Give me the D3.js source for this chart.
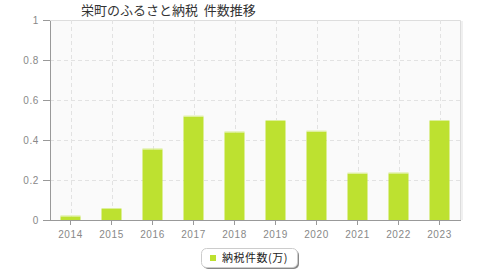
<!DOCTYPE html>
<html lang="ja">
<head>
<meta charset="UTF-8">
<title>栄町のふるさと納税 件数推移</title>
<script src="https://cdn.jsdelivr.net/npm/d3@7"></script>
<style>
    body{margin:0;background:#fff;}
    .axis text{font-family:"Liberation Sans",sans-serif;font-size:10px;fill:#888;letter-spacing:0.6px;}
    .axis path,.axis line{stroke:#999;shape-rendering:crispEdges;}
    .grid line{stroke:#e2e2e2;stroke-dasharray:4,3;shape-rendering:crispEdges;}
</style>
</head>
<body>
<script>
// データ
var years = ["2014","2015","2016","2017","2018","2019","2020","2021","2022","2023"];
var counts = [0.018, 0.055, 0.353, 0.517, 0.438, 0.495, 0.442, 0.232, 0.233, 0.495];
var yTicks = [0, 0.2, 0.4, 0.6, 0.8, 1];
var seriesName = "納税件数(万)";

var width = 480, height = 280;
var pLeft = 50, pRight = 460, pTop = 20, pBottom = 220;

var svg = d3.select("body").append("svg")
    .attr("width", width).attr("height", height);

var x = d3.scaleBand().domain(years).range([pLeft, pRight]);
var y = d3.scaleLinear().domain([0, 1]).range([pBottom, pTop]);

// 背景
svg.append("rect")
    .attr("x", pLeft).attr("y", pTop)
    .attr("width", pRight - pLeft).attr("height", pBottom - pTop)
    .attr("fill", "#fafafa");

// 右・上の枠
svg.append("path")
    .attr("d", "M" + pLeft + "," + (pTop + 0.5) + "H" + (pRight + 0.5) + "V" + pBottom)
    .attr("fill", "none").attr("stroke", "#ddd");
svg.append("line")
    .attr("x1", pRight + 2).attr("x2", pRight + 2).attr("y1", pTop + 1).attr("y2", pBottom)
    .attr("stroke", "#f0f0f0").attr("stroke-width", 2);

// グリッド
var grid = svg.append("g").attr("class", "grid");
grid.selectAll(".h").data(yTicks.filter(function(d){ return d > 0 && d < 1; }))
    .enter().append("line")
    .attr("x1", pLeft).attr("x2", pRight)
    .attr("y1", function(d){ return Math.round(y(d)) + 0.5; })
    .attr("y2", function(d){ return Math.round(y(d)) + 0.5; });
grid.selectAll(".v").data(years)
    .enter().append("line")
    .attr("x1", function(d){ return Math.round(x(d) + x.bandwidth() / 2) + 0.5; })
    .attr("x2", function(d){ return Math.round(x(d) + x.bandwidth() / 2) + 0.5; })
    .attr("y1", pTop).attr("y2", pBottom);

// 棒
var barW = 20;
svg.selectAll(".bar").data(counts).enter().append("rect")
    .attr("x", function(d, i){ return x(years[i]) + x.bandwidth() / 2 - barW / 2; })
    .attr("y", function(d){ return y(d); })
    .attr("width", barW)
    .attr("height", function(d){ return pBottom - y(d); })
    .attr("fill", "#bde130");
svg.selectAll(".hl").data(counts).enter().append("rect")
    .attr("x", function(d, i){ return x(years[i]) + x.bandwidth() / 2 - barW / 2; })
    .attr("y", function(d){ return y(d) - 1; })
    .attr("width", barW).attr("height", 1)
    .attr("fill", "#dcef9a");

// 軸
svg.append("g").attr("class", "axis")
    .attr("transform", "translate(0," + pBottom + ")")
    .call(d3.axisBottom(x).tickSize(5).tickSizeOuter(0).tickPadding(6));
svg.append("g").attr("class", "axis")
    .attr("transform", "translate(" + pLeft + ",0)")
    .call(d3.axisLeft(y).tickValues(yTicks).tickSize(7).tickSizeOuter(0).tickPadding(4)
        .tickFormat(function(d){ return d === 0 || d === 1 ? String(d) : d3.format(".1f")(d); }));

// タイトル
svg.append("text")
    .attr("x", 81).attr("y", 15)
    .attr("font-family", "'Noto Sans CJK JP',sans-serif")
    .attr("font-size", 13).attr("fill", "#333")
    .style("white-space", "pre")
    .text("栄町のふるさと納税  件数推移");

// 凡例
var lg = svg.append("g").attr("transform", "translate(201,248)");
lg.append("rect").attr("x", 2).attr("y", 2).attr("width", 96).attr("height", 19)
    .attr("rx", 5).attr("fill", "#555").attr("opacity", 0.7);
lg.append("rect").attr("x", 0.5).attr("y", 0.5).attr("width", 96).attr("height", 19)
    .attr("rx", 5).attr("fill", "#fff").attr("stroke", "#ccc");
lg.append("rect").attr("x", 9).attr("y", 7).attr("width", 6).attr("height", 6)
    .attr("fill", "#bde130");
lg.append("text").attr("x", 21).attr("y", 14)
    .attr("font-family", "'Noto Sans CJK JP',sans-serif")
    .attr("font-size", 11).attr("fill", "#222")
    .style("letter-spacing", "0.5px")
    .text(seriesName);
</script>
</body>
</html>
